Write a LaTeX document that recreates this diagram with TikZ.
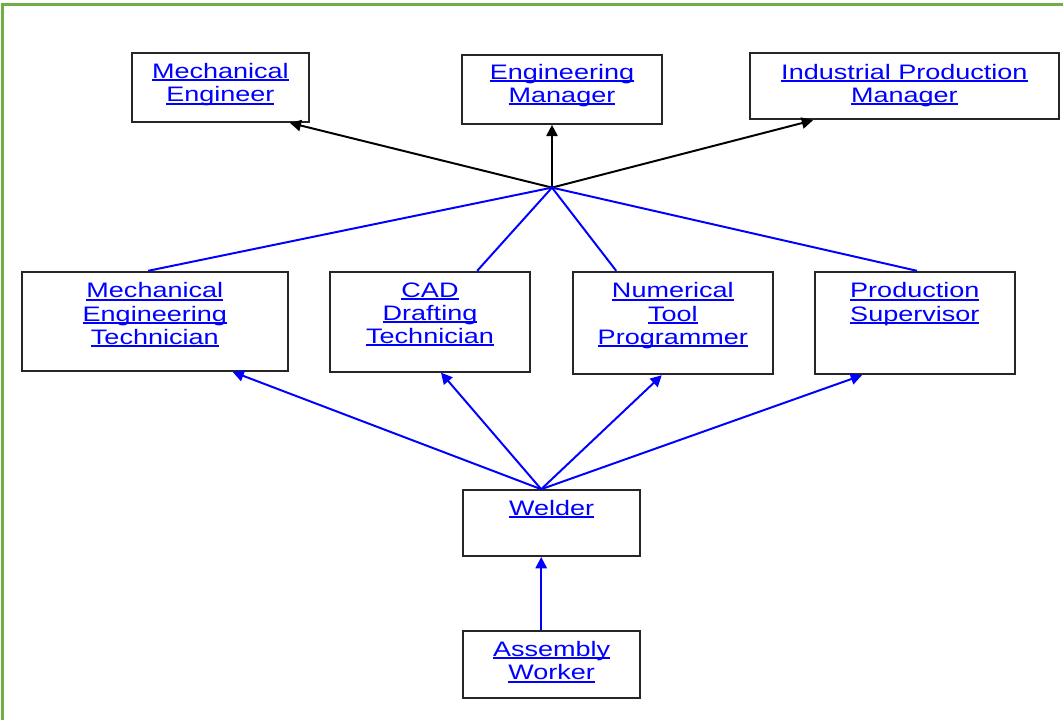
\documentclass[tikz,border=0pt]{standalone}
\usepackage{fontspec}
\setmainfont[FakeStretch=1.29]{Liberation Sans}
\usetikzlibrary{arrows.meta,positioning,calc}

\definecolor{framegreen}{RGB}{112,173,71}
\newcommand{\ulink}[1]{\leavevmode\setbox0=\hbox{#1}\rlap{\vrule width\wd0 height -0.5pt depth 1.9pt}\box0}

\begin{document}
\begin{tikzpicture}[
        font=\fontsize{14.9}{16.5}\selectfont,
        >={Triangle[length=8pt,width=8pt]},
        box/.style={draw=black!85, line width=1.3pt, rectangle, anchor=north, inner sep=0pt},
        lnk/.style={anchor=north, inner sep=0pt, align=center, text=blue},
        uparrow/.style={->, line width=1.4pt},
        blueline/.style={blue, line width=1.4pt},
        bluearrow/.style={->, blue, line width=1.4pt},
        greenframe/.style={draw=framegreen, line width=1.8pt}
    ]

    \useasboundingbox (0,0) rectangle (26.575,-18);
    \draw[greenframe] (0.0675,-18) |- (26.575,-0.1075);

    % Top row
    \node[box, minimum width=44.25mm, minimum height=17.25mm] (mecheng) at (5.51,-1.30) {};
    \node[box, minimum width=50mm, minimum height=17.25mm] (engmgr) at (14.05,-1.35) {};
    \node[box, minimum width=77.25mm, minimum height=16.5mm] (indmgr) at (22.61,-1.31) {};

    % Middle row
    \node[box, minimum width=66.5mm, minimum height=24.8mm] (metech) at (3.87,-6.77) {};
    \node[box, minimum width=50mm, minimum height=25mm] (cadtech) at (10.75,-6.77) {};
    \node[box, minimum width=50mm, minimum height=25.65mm] (ntprog) at (16.82,-6.77) {};
    \node[box, minimum width=50mm, minimum height=25.65mm] (prodsup) at (22.87,-6.77) {};

    % Bottom column
    \node[box, minimum width=44.3mm, minimum height=16.5mm] (welder) at (13.79,-12.23) {};
    \node[box, minimum width=44.3mm, minimum height=16.7mm] (asmwork) at (13.79,-15.75) {};

    % Link texts
    \node[lnk] (mecheng-t) at ($(mecheng.north)+(0,-0.28)$) {\ulink{Mechanical}\\\ulink{Engineer}};
    \node[lnk] (engmgr-t) at ($(engmgr.north)+(0,-0.25)$) {\ulink{Engineering}\\\ulink{Manager}};
    \node[lnk] (indmgr-t) at ($(indmgr.north)+(0,-0.28)$) {\ulink{Industrial Production}\\\ulink{Manager}};
    \node[lnk] (metech-t) at ($(metech.north)+(0,-0.29)$) {\ulink{Mechanical}\\\ulink{Engineering}\\\ulink{Technician}};
    \node[lnk] (cadtech-t) at ($(cadtech.north)+(0,-0.29)$) {\ulink{CAD}\\\ulink{Drafting}\\\ulink{Technician}};
    \node[lnk] (ntprog-t) at ($(ntprog.north)+(0,-0.29)$) {\ulink{Numerical}\\\ulink{Tool}\\\ulink{Programmer}};
    \node[lnk] (prodsup-t) at ($(prodsup.north)+(0,-0.29)$) {\ulink{Production}\\\ulink{Supervisor}};
    \node[lnk] (welder-t) at ($(welder.north)+(0,-0.27)$) {\ulink{Welder}};
    \node[lnk] (asmwork-t) at ($(asmwork.north)+(0,-0.28)$) {\ulink{Assembly}\\\ulink{Worker}};

    % Meeting points
    \coordinate (hub) at (13.8,-4.69);
    \coordinate (wtop) at ($(welder.north)+(-0.26,0)$);

    % Up to the top row
    \draw[uparrow] (hub) -- ($(mecheng.south east)+(-0.5,0)$);
    \draw[uparrow] (hub) -- ($(engmgr.south)+(-0.25,0)$);
    \draw[uparrow] (hub) -- ($(indmgr.south west)+(1.6,0)$);

    % Middle row into the hub
    \draw[blueline] ($(metech.north)+(-0.165,0)$) -- (hub);
    \draw[blueline] ($(cadtech.north)+(1.18,0)$) -- (hub);
    \draw[blueline] ($(ntprog.north)+(-1.415,0)$) -- (hub);
    \draw[blueline] ($(prodsup.north)+(0.055,0)$) -- (hub);

    % Welder up to the middle row
    \draw[bluearrow] (wtop) -- ($(metech.south)+(1.945,0)$);
    \draw[bluearrow] (wtop) -- ($(cadtech.south)+(0.275,0)$);
    \draw[bluearrow] (wtop) -- ($(ntprog.south)+(-0.275,0)$);
    \draw[bluearrow] (wtop) -- ($(prodsup.south)+(-1.32,0)$);

    \draw[bluearrow] ($(asmwork.north)+(-0.26,0)$) -- ($(welder.south)+(-0.26,0)$);

\end{tikzpicture}
\end{document}
